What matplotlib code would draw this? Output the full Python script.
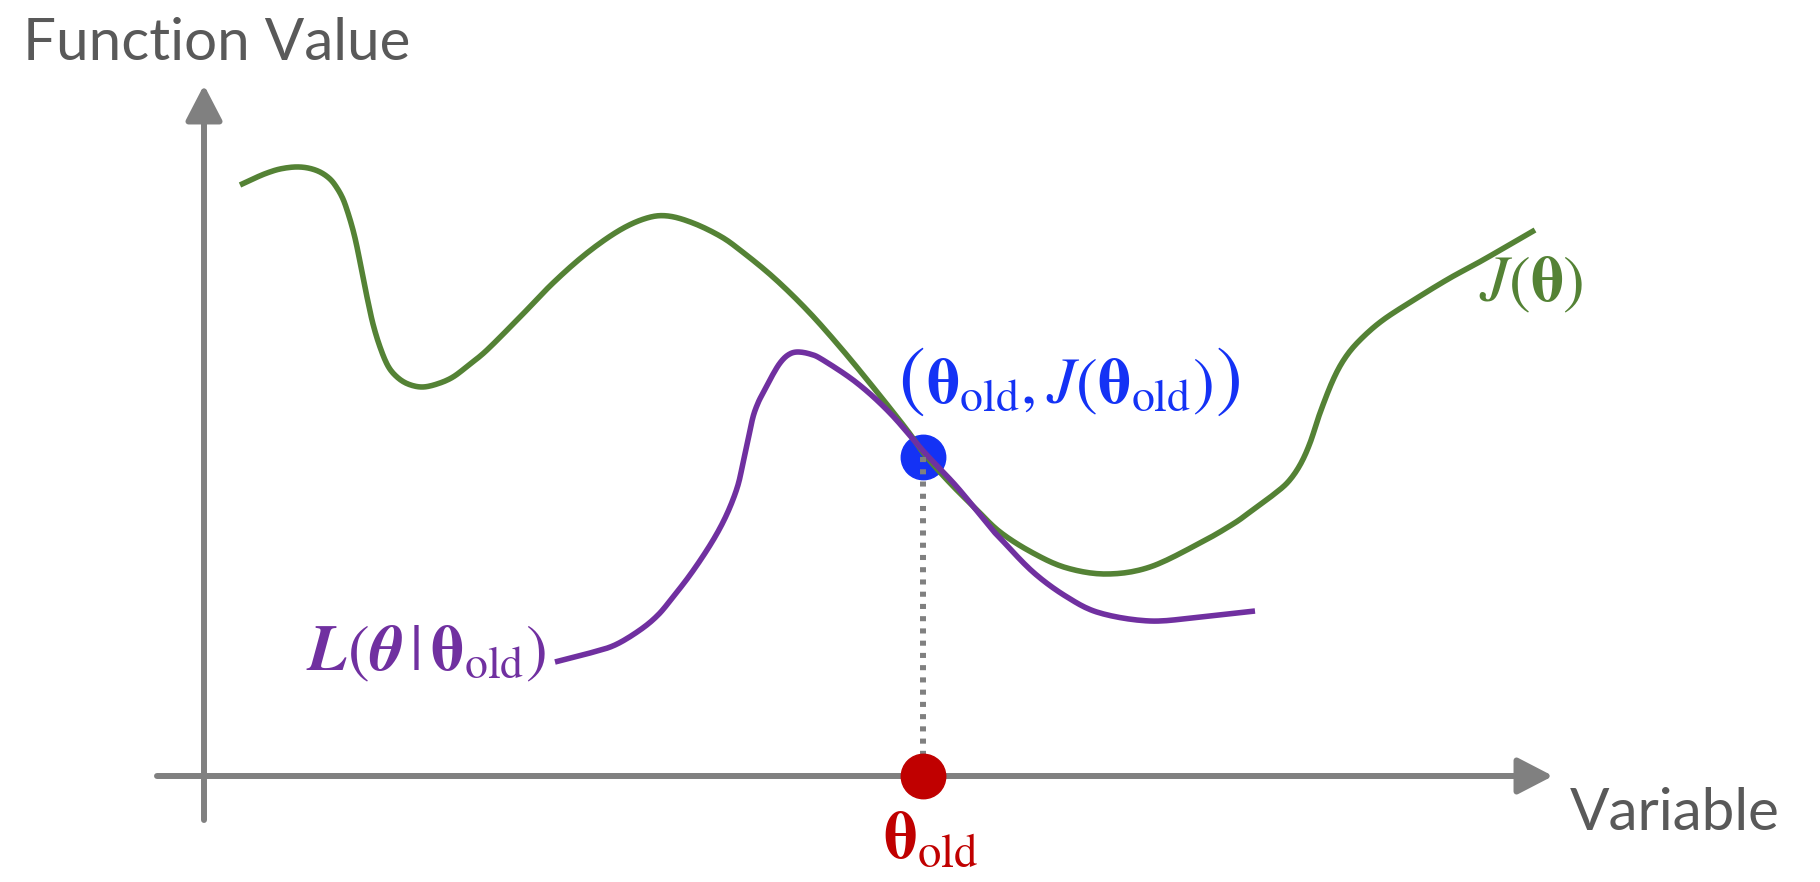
import matplotlib
matplotlib.use('Agg')
import matplotlib.pyplot as plt
import numpy as np

plt.rcParams['mathtext.fontset'] = 'stix'

# data: curves, origin at the axes crossing, y up
j_x = [36, 51, 63, 76, 91, 104, 116, 126, 133, 139, 144, 149, 153, 158, 163, 169, 176,
       184, 193, 204, 218, 233, 249, 266, 283, 316, 349, 383, 416, 443, 464, 489, 516,
       536, 569, 603, 636, 669, 703, 721, 746, 771, 796, 829, 863, 903, 946, 996, 1029,
       1046, 1069, 1084, 1096, 1106, 1116, 1129, 1141, 1156, 1179, 1213, 1246, 1279, 1331]
j_y = [591, 598, 603, 607, 609, 608, 604, 597, 588, 577, 563, 546, 529, 504, 479, 452, 429,
       410, 399, 392, 389, 392, 399, 412, 426, 459, 493, 523, 546, 558, 560, 553, 540,
       526, 499, 466, 429, 389, 346, 321, 293, 268, 244, 223, 208, 202, 209, 233, 252,
       264, 281, 294, 311, 333, 363, 396, 418, 436, 456, 478, 498, 516, 546]

l_x = [351, 386, 411, 436, 454, 469, 486, 503, 516, 526, 534, 539, 544, 549, 554, 559,
       568, 576, 584, 593, 606, 619, 653, 686, 721, 753, 786, 796, 829, 863, 896, 946,
       996, 1051]
l_y = [114, 123, 131, 146, 161, 179, 201, 226, 248, 269, 291, 313, 336, 359, 373, 383,
       400, 413, 421, 424, 422, 416, 393, 363, 323, 289, 249, 238, 204, 179, 163, 155,
       159, 165]

theta_old = 719
j_old = 319

x_axis_start, x_axis_end = -47, 1349
y_axis_start, y_axis_end = -44, 691

green = '#548235'
purple = '#7030A0'
blue = '#1432F5'
red = '#C00000'
gray = '#808080'
text_gray = '#595959'


# smooth drawing through the read points (catmull-rom)
def smooth(xs, ys, n=12):
    p = np.column_stack([xs, ys]).astype(float)
    p = np.vstack([p[0], p, p[-1]])
    out = []
    t = np.linspace(0, 1, n, endpoint=False)[:, None]
    for i in range(1, len(p) - 2):
        p0, p1, p2, p3 = p[i - 1], p[i], p[i + 1], p[i + 2]
        seg = 0.5 * ((2 * p1) + (-p0 + p2) * t + (2 * p0 - 5 * p1 + 4 * p2 - p3) * t ** 2
                     + (-p0 + 3 * p1 - 3 * p2 + p3) * t ** 3)
        out.append(seg)
    out.append(p[-2][None, :])
    out = np.vstack(out)
    return out[:, 0], out[:, 1]


fig = plt.figure(figsize=(18.2, 8.82), dpi=100)
ax = fig.add_axes([0, 0, 1, 1])
ax.set_xlim(-204, 1616)
ax.set_ylim(-106, 776)
ax.axis('off')

# axes with arrows
arrow = dict(arrowstyle='-|>,head_length=1.08,head_width=0.56', lw=4.3,
             color=gray, mutation_scale=20, shrinkA=0, shrinkB=0)
ax.annotate('', xy=(x_axis_end, 0), xytext=(x_axis_start, 0), arrowprops=arrow)
ax.annotate('', xy=(0, y_axis_end), xytext=(0, y_axis_start), arrowprops=arrow)

# curves
gx, gy = smooth(j_x, j_y)
px, py = smooth(l_x, l_y)
ax.plot(gx, gy, color=green, lw=4.0, solid_joinstyle='round', solid_capstyle='butt')
ax.plot(px, py, color=purple, lw=4.0, solid_joinstyle='round', solid_capstyle='butt')

# dotted drop line and points
ax.plot([theta_old, theta_old], [j_old, 0], color=gray, lw=4.3,
        dashes=(0.85, 1.2), solid_capstyle='butt')
ax.plot([theta_old], [j_old], 'o', color=blue, markersize=32, zorder=1)
ax.plot([theta_old], [0], 'o', color=red, markersize=32, zorder=5)

# labels
ax.text(-181, 716, 'Function Value', fontsize=42, family='Lato', color=text_gray,
        ha='left', va='baseline')
ax.text(1366, -54, 'Variable', fontsize=42, family='Lato', color=text_gray,
        ha='left', va='baseline')

ax.text(1327, 493, r'$J(\mathbf{\theta})$', fontsize=47, color=green,
        ha='center', va='center')
ax.text(222, 124, r'$\boldsymbol{L}(\boldsymbol{\theta}\,|\,\mathbf{\theta}_{\mathrm{old}})$',
        fontsize=47, color=purple, ha='center', va='center')
inner = ax.text(866, 391, r'$\mathbf{\theta}_{\mathrm{old}},J(\mathbf{\theta}_{\mathrm{old}})$',
                fontsize=47, color=blue, ha='center', va='center')
ax.text(727, -82, r'$\mathbf{\theta}_{\mathrm{old}}$', fontsize=48, color=red,
        ha='center', va='baseline')

# bigger outer brackets around the blue label
renderer = fig.canvas.get_renderer()
bb = inner.get_window_extent(renderer).transformed(ax.transData.inverted())
ax.text(bb.x0 - 2, 393, '(', fontsize=58, family='STIXGeneral', color=blue,
        ha='right', va='center')
ax.text(bb.x1 + 2, 393, ')', fontsize=58, family='STIXGeneral', color=blue,
        ha='left', va='center')

fig.savefig('out.png', dpi=100)
